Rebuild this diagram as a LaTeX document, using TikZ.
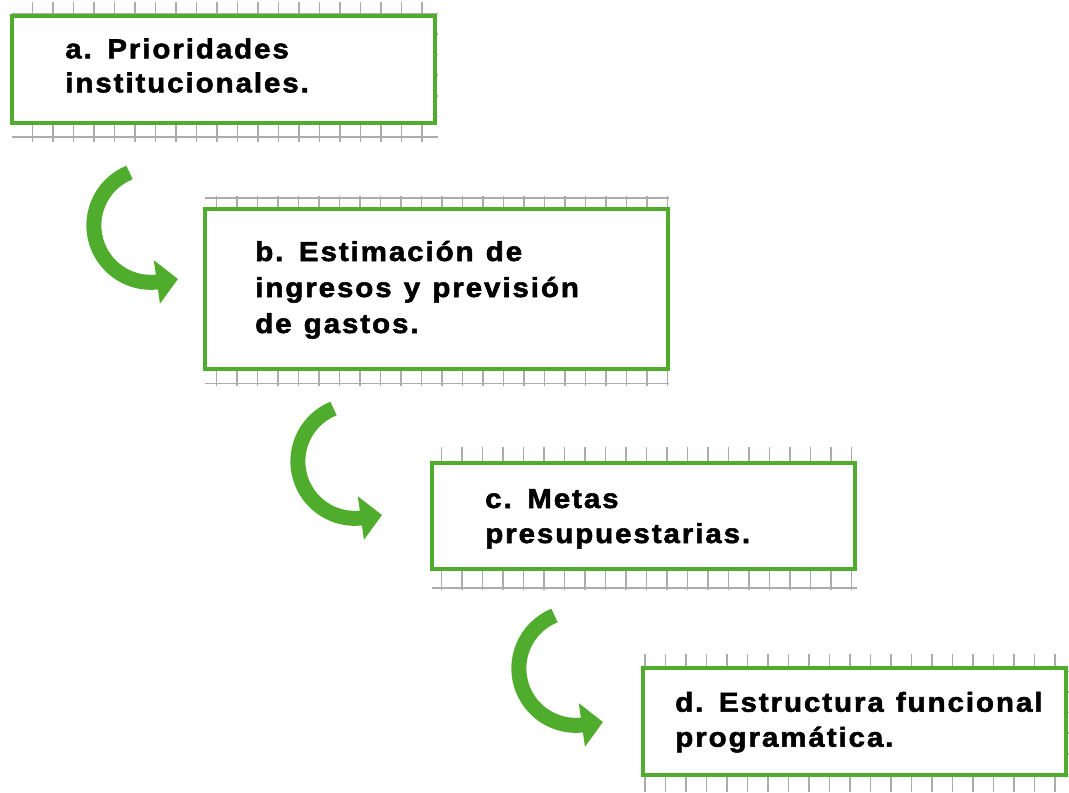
\documentclass[tikz,border=0pt]{standalone}
\usepackage{fontspec}
\newfontfamily\lblfont{Liberation Sans Bold}[FakeStretch=1.08,FakeBold=2,LetterSpace=7,WordSpace=1.2]
\usetikzlibrary{arrows.meta,calc}
\definecolor{boxgreen}{RGB}{80,172,44}
\definecolor{gridgray}{RGB}{172,172,172}
\tikzset{
  gridline/.style={draw=gridgray, line width=1.1pt},
  stepbox/.style={draw=boxgreen, fill=white, line width=3pt, rectangle, inner sep=0pt},
  lbl/.style={anchor=base west, inner sep=0pt, font=\lblfont\fontsize{20.5pt}{24pt}\selectfont, text=black},
  flow/.style={draw=boxgreen, line width=11.25pt, line cap=butt,
    -{Triangle[width=32pt, length=16pt]}}
}
% grid strip: x0 x1 y0 y1 firstx firsty (pixel units, y downward)
\newcommand{\gridstrip}[6]{%
  \begin{scope}
    \clip (#1,-#3) rectangle (#2,-#4);
    \pgfmathsetmacro{\gxs}{#5+20.5}
    \foreach \gx in {#5,\gxs,...,#2} \draw[gridline] (\gx,-#3) -- (\gx,-#4);
    \pgfmathsetmacro{\gys}{#6+20.6}
    \foreach \gy in {#6,\gys,...,#4} \draw[gridline] (#1,-\gy) -- (#2,-\gy);
  \end{scope}}
\begin{document}
\begin{tikzpicture}[x=0.75pt, y=0.75pt]
\useasboundingbox (0,0) rectangle (1069,-792);
% background grid strips
\gridstrip{12}{438}{2}{142}{32.5}{13.4}
\gridstrip{205}{669}{196}{386}{216.7}{198}
\gridstrip{432}{857}{447}{590}{441.7}{443.8}
\gridstrip{643}{1069}{654}{792}{645}{650.8}
% boxes
\node[stepbox, minimum width=316.9pt, minimum height=80.6pt] (A) at (223.75,-69.75) {};
\node[stepbox, minimum width=347.25pt, minimum height=120pt] (B) at (436.5,-289) {};
\node[stepbox, minimum width=317.25pt, minimum height=79.5pt] (C) at (643.5,-515.5) {};
\node[stepbox, minimum width=316.9pt, minimum height=80.6pt] (D) at (854.75,-721.75) {};
% labels
\node[lbl] (A1) at (65,-58.3) {a. Prioridades};
\node[lbl] (A2) at (65,-92.3) {institucionales.};
\node[lbl] (B1) at (255,-261) {b. Estimación de};
\node[lbl] (B2) at (255,-297) {ingresos y previsión};
\node[lbl] (B3) at (255,-333) {de gastos.};
\node[lbl] (C1) at (485,-508) {c. Metas};
\node[lbl] (C2) at (485,-543) {presupuestarias.};
\node[lbl] (D1) at (675,-711.7) {d. Estructura funcional};
\node[lbl] (D2) at (675,-746.7) {programática.};
% curved arrows
\coordinate (s1) at (129.5,-172.5);
\coordinate (e1) at (178,-279);
\coordinate (s2) at ($(s1)+(204,-236)$);
\coordinate (e2) at ($(e1)+(204,-236)$);
\coordinate (s3) at ($(s1)+(425,-443)$);
\coordinate (e3) at ($(e1)+(425,-443)$);
\draw[flow] (s1) arc[start angle=112, end angle=275, radius=57] -- (e1);
\draw[flow] (s2) arc[start angle=112, end angle=275, radius=57] -- (e2);
\draw[flow] (s3) arc[start angle=112, end angle=275, radius=57] -- (e3);
\end{tikzpicture}
\end{document}
